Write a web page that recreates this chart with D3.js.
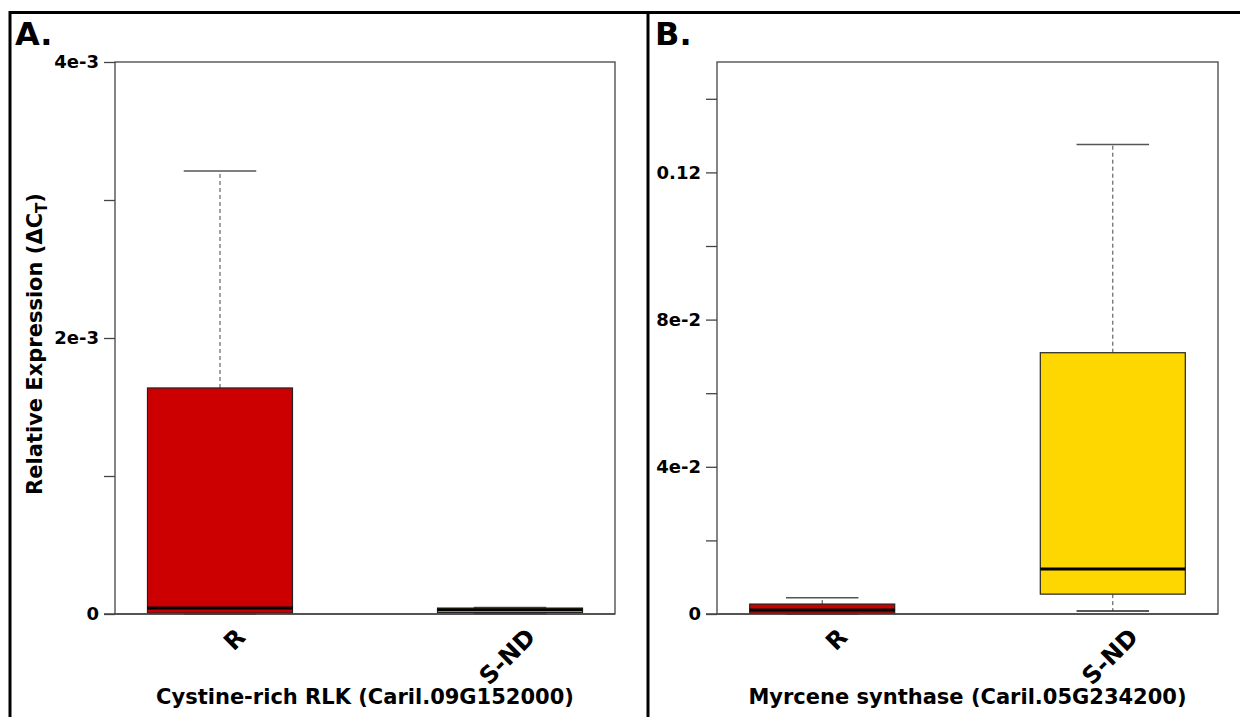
<!DOCTYPE html>
<html>
<head>
<meta charset="utf-8">
<script src="https://cdn.jsdelivr.net/npm/d3@7"></script>
<style>
  body { margin: 0; background: #fff; }
  svg { display: block; font-family: "DejaVu Sans", Verdana, sans-serif; }
</style>
</head>
<body>
<svg id="fig" width="1240" height="717"></svg>
<script>
// groups on the x axis
const groups = ['R', 'S-ND'];

// panel A - Cystine-rich RLK, box stats per group
const rlkMin    = [0.000000, 0.000004];
const rlkQ1     = [0.000007, 0.000011];
const rlkMedian = [0.000043, 0.000030];
const rlkQ3     = [0.001638, 0.000043];
const rlkMax    = [0.003210, 0.000048];
const rlkTicks  = [0, 0.001, 0.002, 0.003, 0.004];
const rlkTickLabels = ['0', '', '2e-3', '', '4e-3'];

// panel B - Myrcene synthase
const myrMin    = [0.0000, 0.0008];
const myrQ1     = [0.0002, 0.0054];
const myrMedian = [0.0011, 0.0122];
const myrQ3     = [0.0027, 0.0710];
const myrMax    = [0.0044, 0.1276];
const myrTicks  = [0, 0.02, 0.04, 0.06, 0.08, 0.10, 0.12, 0.14];
const myrTickLabels = ['0', '', '4e-2', '', '8e-2', '', '0.12', ''];

const svg = d3.select('#fig');

// outer frame + divider
svg.append('rect')
    .attr('x', 10).attr('y', 12.5)
    .attr('width', 1240).attr('height', 720)
    .attr('fill', 'none').attr('stroke', '#000').attr('stroke-width', 3);
svg.append('line')
    .attr('x1', 648).attr('x2', 648).attr('y1', 12).attr('y2', 717)
    .attr('stroke', '#000').attr('stroke-width', 3);

function drawPanel(p) {
    const g = svg.append('g');
    const top = 62, bottom = 614;

    const x = d3.scalePoint().domain(groups)
        .range([p.left, p.right]).padding(0.362);
    const y = d3.scaleLinear().domain([0, p.ymax]).range([bottom, top]);
    const boxW = 145;

    // panel letter
    g.append('text')
        .attr('x', p.letterX).attr('y', 45)
        .style('font-size', '32px').style('font-weight', 'bold')
        .text(p.letter);

    // plot frame
    g.append('rect')
        .attr('x', p.left).attr('y', top)
        .attr('width', p.right - p.left).attr('height', bottom - top)
        .attr('fill', 'none').attr('stroke', '#444').attr('stroke-width', 1.3);

    // y axis
    const yAxis = d3.axisLeft(y)
        .tickValues(p.ticks)
        .tickSize(11)
        .tickPadding(5)
        .tickFormat((d, i) => p.tickLabels[i]);
    const ax = g.append('g')
        .attr('transform', `translate(${p.left},0)`)
        .call(yAxis);
    ax.select('.domain').remove();
    ax.selectAll('.tick line').attr('stroke', '#444').attr('stroke-width', 1.3);
    ax.selectAll('.tick text')
        .attr('fill', '#000')
        .style('font-size', '18px').style('font-weight', 'bold')
        .style('font-family', '"DejaVu Sans", Verdana, sans-serif');

    const stats = groups.map((k, i) => ({
        key: k, min: p.min[i], q1: p.q1[i], med: p.med[i], q3: p.q3[i], max: p.max[i], fill: p.fills[i]
    }));

    const box = g.selectAll('.box').data(stats).enter().append('g');

    // whiskers (dashed)
    box.append('line')
        .attr('x1', d => x(d.key)).attr('x2', d => x(d.key))
        .attr('y1', d => y(d.q3)).attr('y2', d => y(d.max))
        .attr('stroke', '#444').attr('stroke-dasharray', '4,3');
    box.append('line')
        .attr('x1', d => x(d.key)).attr('x2', d => x(d.key))
        .attr('y1', d => y(d.q1)).attr('y2', d => y(d.min))
        .attr('stroke', '#444').attr('stroke-dasharray', '4,3');
    // caps
    box.append('line')
        .attr('x1', d => x(d.key) - boxW / 4).attr('x2', d => x(d.key) + boxW / 4)
        .attr('y1', d => y(d.max)).attr('y2', d => y(d.max))
        .attr('stroke', '#555').attr('stroke-width', 1.5);
    box.append('line')
        .attr('x1', d => x(d.key) - boxW / 4).attr('x2', d => x(d.key) + boxW / 4)
        .attr('y1', d => y(d.min)).attr('y2', d => y(d.min))
        .attr('stroke', '#222').attr('stroke-width', 1.5);
    // box
    box.append('rect')
        .attr('x', d => x(d.key) - boxW / 2).attr('width', boxW)
        .attr('y', d => y(d.q3)).attr('height', d => y(d.q1) - y(d.q3))
        .attr('fill', d => d.fill).attr('stroke', '#222').attr('stroke-width', 1.2);
    // median
    box.append('line')
        .attr('x1', d => x(d.key) - boxW / 2).attr('x2', d => x(d.key) + boxW / 2)
        .attr('y1', d => y(d.med)).attr('y2', d => y(d.med))
        .attr('stroke', '#000').attr('stroke-width', 3);

    // bottom axis line
    g.append('line')
        .attr('x1', p.left - 11).attr('x2', p.right)
        .attr('y1', bottom).attr('y2', bottom)
        .attr('stroke', '#444').attr('stroke-width', 1.3);

    // rotated group labels
    g.selectAll('.glab').data(groups).enter().append('text')
        .attr('transform', d => `translate(${x(d) + 14},${bottom + 12}) rotate(-45)`)
        .attr('text-anchor', 'end')
        .attr('dy', '0.75em')
        .style('font-size', '24px').style('font-weight', 'bold')
        .text(d => d);

    // gene title
    g.append('text')
        .attr('x', (p.left + p.right) / 2).attr('y', 704)
        .attr('text-anchor', 'middle')
        .style('font-size', '21px').style('font-weight', 'bold')
        .text(p.title);

    if (p.ylabel) {
        const yl = g.append('text')
            .attr('transform', `translate(42,${(top + bottom) / 2 + 6}) rotate(-90)`)
            .attr('text-anchor', 'middle')
            .style('font-size', '21px').style('font-weight', 'bold');
        yl.append('tspan').text('Relative Expression (ΔC');
        yl.append('tspan').attr('dy', 5).style('font-size', '15px').text('T');
        yl.append('tspan').attr('dy', -5).text(')');
    }
}

drawPanel({
    letter: 'A.', letterX: 15, left: 115, right: 615, ymax: 0.004,
    ticks: rlkTicks, tickLabels: rlkTickLabels,
    min: rlkMin, q1: rlkQ1, med: rlkMedian, q3: rlkQ3, max: rlkMax,
    fills: ['#cc0000', '#ffd700'],
    title: 'Cystine-rich RLK (Caril.09G152000)',
    ylabel: true
});

drawPanel({
    letter: 'B.', letterX: 655, left: 717, right: 1218, ymax: 0.15,
    ticks: myrTicks, tickLabels: myrTickLabels,
    min: myrMin, q1: myrQ1, med: myrMedian, q3: myrQ3, max: myrMax,
    fills: ['#cc0000', '#ffd700'],
    title: 'Myrcene synthase (Caril.05G234200)',
    ylabel: false
});
</script>
</body>
</html>
